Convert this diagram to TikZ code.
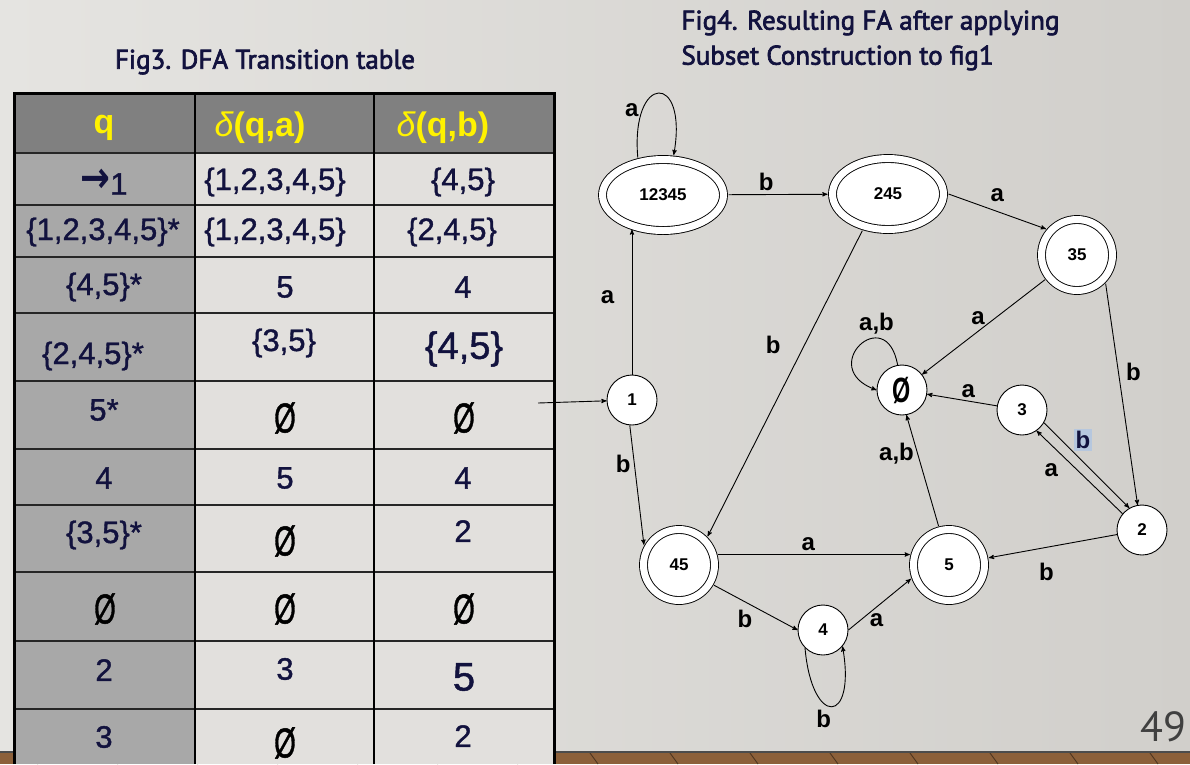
\documentclass[tikz,border=0pt]{standalone}
\usepackage{fontspec}
\setmainfont{Liberation Sans}
\newfontfamily\capfont{PT Sans}
\newfontfamily\arrowfont{DejaVu Sans}
\usepackage{graphicx}
\usetikzlibrary{arrows,shapes.geometric}

\definecolor{bgleft}{RGB}{229,228,225}
\definecolor{bgright}{RGB}{209,207,203}
\definecolor{headgray}{RGB}{128,128,128}
\definecolor{firstgray}{RGB}{168,168,168}
\definecolor{cellgray}{RGB}{226,224,221}
\definecolor{inkblue}{RGB}{18,18,62}
\definecolor{wood}{RGB}{140,96,58}
\definecolor{marked}{RGB}{182,199,222}

\newcommand{\noset}{\scalebox{0.9}[1.35]{Ø}}

\begin{document}
\begin{tikzpicture}[x=1pt,y=-1pt,>=stealth',line width=0.9pt,
 state/.style={circle,draw,fill=white,minimum size=50pt,inner sep=0pt,font=\bfseries\fontsize{17}{17}\selectfont},
 accept/.style={double,double distance=7pt,outer sep=5pt},
 cell/.style={font=\fontsize{31}{31}\selectfont\addfontfeature{FakeBold=1.2},text=inkblue},
 head/.style={font=\bfseries\fontsize{34}{34}\selectfont,text=yellow},
 lbl/.style={font=\bfseries\fontsize{24}{24}\selectfont},
 figtitle/.style={font=\capfont\fontsize{27}{35}\selectfont\addfontfeature{FakeBold=2.5},text=inkblue}]
 \useasboundingbox (0,0) rectangle (1190,764);

 % slide and floor
 \shade[left color=bgleft,right color=bgright] (0,0) rectangle (1190,752);
 \fill[wood] (0,752) rectangle (1190,764);
 \foreach \x in {30,110,190,...,1190}
  \draw[wood!55!black] (\x,753) -- (\x+8,764);
 \draw[black!70,line width=1.5pt] (0,752) -- (1190,752);

 % captions
 \node[figtitle] (cap3) at (265,62) {Fig3. DFA Transition table};
 \node[figtitle,anchor=north west,align=left,inner sep=0pt] (cap4) at (681,10) {Fig4. Resulting FA after applying\\Subset Construction to fig1};
 \node[font=\capfont\fontsize{42}{42}\selectfont,text=black!75] (page) at (1163,727) {49};

 % transition table
 \fill[cellgray] (14,153) rectangle (554,764);
 \fill[firstgray] (14,153) rectangle (195,764);
 \fill[headgray] (14,93) rectangle (554,153);
 \foreach \y in {153,205,257,313,381,449,505,572,641,709}
  \draw[line width=2pt,black!85] (14,\y) -- (554,\y);
 \foreach \x in {195,374}
  \draw[line width=1.6pt] (\x,93) -- (\x,764);
 \draw[line width=3pt] (14,764) -- (14,93) -- (554,93) -- (554,764);

 \node[head] (h1) at (104,128) {q};
 \node[head] (h2) at (260,128) {{\mdseries\itshape δ}(q,a)};
 \node[head] (h3) at (443,128) {{\mdseries\itshape δ}(q,b)};

 \node[cell] (c11) at (104,182) {\raisebox{2pt}{\scalebox{1.15}[1.4]{\arrowfont\bfseries →}}1};
 \node[cell] (c12) at (275,182) {\{1,2,3,4,5\}};
 \node[cell] (c13) at (463,182) {\{4,5\}};
 \node[cell] (c21) at (103,232) {\{1,2,3,4,5\}*};
 \node[cell] (c22) at (275,232) {\{1,2,3,4,5\}};
 \node[cell] (c23) at (452,232) {\{2,4,5\}};
 \node[cell] (c31) at (104,287) {\{4,5\}*};
 \node[cell] (c32) at (285,287) {5};
 \node[cell] (c33) at (463,287) {4};
 \node[cell] (c41) at (93,356) {\{2,4,5\}*};
 \node[cell] (c42) at (284,343) {\{3,5\}};
 \node[cell,font=\fontsize{38}{38}\selectfont\addfontfeature{FakeBold=1.2}] (c43) at (464,349) {\{4,5\}};
 \node[cell] (c51) at (104,410) {5*};
 \node[cell,text=black] (c52) at (285,418) {\noset};
 \node[cell,text=black] (c53) at (464,418) {\noset};
 \node[cell] (c61) at (104,478) {4};
 \node[cell] (c62) at (285,478) {5};
 \node[cell] (c63) at (463,478) {4};
 \node[cell] (c71) at (104,535) {\{3,5\}*};
 \node[cell,text=black] (c72) at (285,541) {\noset};
 \node[cell] (c73) at (463,531) {2};
 \node[cell,text=black] (c81) at (105,609) {\noset};
 \node[cell,text=black] (c82) at (285,609) {\noset};
 \node[cell,text=black] (c83) at (464,609) {\noset};
 \node[cell] (c91) at (104,670) {2};
 \node[cell] (c92) at (285,669) {3};
 \node[cell,font=\fontsize{40}{40}\selectfont\addfontfeature{FakeBold=1.2}] (c93) at (464,677) {5};
 \node[cell] (c01) at (104,737) {3};
 \node[cell,text=black] (c02) at (285,743) {\noset};
 \node[cell] (c03) at (463,736) {2};

 % 10 states
 \node[state] (q1) at (632,400) {1};
 \node[state,accept,ellipse,minimum width=121pt,minimum height=71pt] (q12345) at (663,195) {12345};
 \node[state,accept,ellipse,minimum width=111pt,minimum height=71pt] (q245) at (888,194) {245};
 \node[state,accept,minimum size=71pt] (q35) at (1077,255) {35};
 \node[state,font=\bfseries\fontsize{26}{26}\selectfont] (qe) at (902,390) {\noset};
 \node[state] (q3) at (1022,410) {3};
 \node[state] (q2) at (1142,530) {2};
 \node[state,accept,minimum size=71pt] (q45) at (679,565) {45};
 \node[state,accept,minimum size=71pt] (q5) at (949,565) {5};
 \node[state] (q4) at (823,630) {4};
 \coordinate (start) at (538,403);

 % transitions
 \path[->,every node/.style={lbl}]
 (start) edge (q1)
 (q1.north) edge [shorten >=-6pt] node[left=14pt,pos=0.56] {a} (q1.north |- q12345.south)
 (q12345.124) edge [out=95,in=80,distance=85pt] node[left,pos=0.25] {a} (q12345.75)
 (q12345) edge node[above,pos=0.38] {b} (q245)
 (q245.east) edge node[above=6pt] {a} (q35.140)
 (q245.235) edge node[left=20pt,pos=0.375] {b} (q45.45)
 (q35) edge node[above=3pt,pos=0.545] {a} (qe)
 (q35.-45) edge node[right=4pt,pos=0.4] {b} (q2.100)
 (qe.100) edge [out=100,in=160,distance=65pt] node[above,pos=0.3] {a,b} (qe.180)
 (q3) edge node[above,pos=0.41] {a} (qe)
 (q3.-30) edge node[right=12pt,pos=0.2,fill=marked,inner sep=2pt,text=inkblue] {b} (q2.120)
 (q2.140) edge node[left=16pt,pos=0.52] {a} (q3.-55)
 (q5.105) edge node[left,pos=0.65] {a,b} (qe.-80)
 (q2) edge node[below=12pt,pos=0.55] {b} (q5)
 (q1.-95) edge node[left,pos=0.32] {b} (q45.150)
 (q45.15) edge node[above,pos=0.47] {a} (q5.165)
 (q45.-30) edge node[below=5pt,pos=0.37] {b} (q4.west)
 (q4.east) edge node[below=3pt,pos=0.45] {a} (q5.200)
 (q4.225) edge [out=275,in=280,distance=80pt] node[below,xshift=-8pt] {b} (q4.320);
\end{tikzpicture}
\end{document}
